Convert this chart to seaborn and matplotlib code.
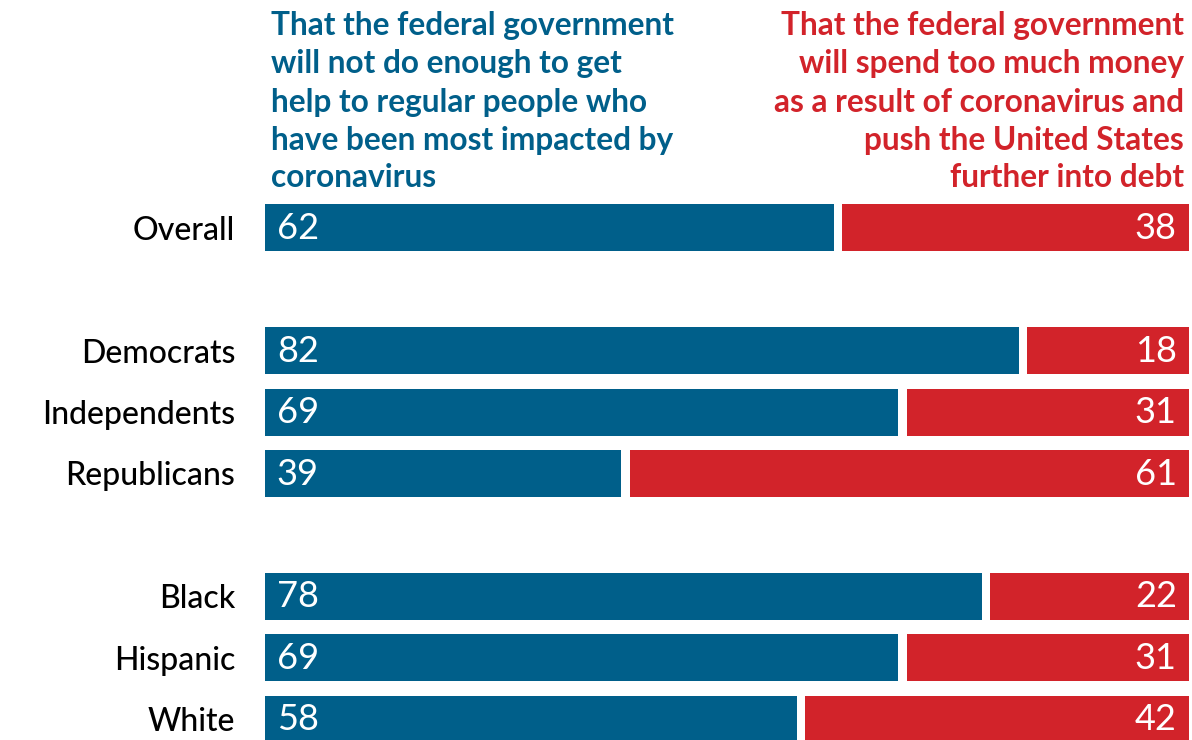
import matplotlib
matplotlib.use("Agg")
import pandas as pd
import seaborn as sns
from matplotlib import pyplot as plt


groups = ["Overall", "Democrats", "Independents", "Republicans", "Black", "Hispanic", "White"]
not_enough = [62, 82, 69, 39, 78, 69, 58]
too_much = [38, 18, 31, 61, 22, 31, 42]
row_pos = [0, 2, 3, 4, 6, 7, 8]

blue_header = ["That the federal government", "will not do enough to get",
               "help to regular people who", "have been most impacted by",
               "coronavirus"]
red_header = ["That the federal government", "will spend too much money",
              "as a result of coronavirus and", "push the United States",
              "further into debt"]

BLUE = "#005F8A"
RED = "#D2232A"
GAP = 0.46  # half of the white gap between the two parts, in percent units

sns.set_theme(style="white")
plt.rcParams["font.family"] = ["Lato", "DejaVu Sans"]

df = pd.DataFrame({"group": groups, "pos": row_pos,
                   "blue": not_enough, "red": too_much})
df["total"] = df["blue"] + df["red"]
df["blue_gap"] = df["blue"] + GAP
df["blue_end"] = df["blue"] - GAP

fig = plt.figure(figsize=(11.92, 7.40), dpi=100)
ax = fig.add_axes([265 / 1192, 0, 925 / 1192, 1])

bar_kw = dict(y="pos", orient="y", native_scale=True, width=0.765,
              saturation=1, linewidth=0, ax=ax)
sns.barplot(data=df, x="total", color=RED, **bar_kw)
sns.barplot(data=df, x="blue_gap", color="white", **bar_kw)
sns.barplot(data=df, x="blue_end", color=BLUE, **bar_kw)

ax.set_xlim(0, 100.08)
ax.set_ylim(8.342, -3.713)
ax.set_xticks([])
ax.set_yticks(row_pos)
ax.set_yticklabels(groups, fontsize=23, color="black", fontweight="medium")
ax.tick_params(axis="y", length=0, pad=21.5)
ax.set_xlabel("")
ax.set_ylabel("")
sns.despine(ax=ax, left=True, bottom=True)

# values inside the bars
for _, row in df.iterrows():
    ax.annotate(f"{row['blue']}", xy=(0, row["pos"]), xytext=(8.5, -0.5),
                textcoords="offset points", ha="left", va="center",
                color="white", fontsize=26)
    ax.annotate(f"{row['red']}", xy=(row["total"], row["pos"]), xytext=(-9, -0.5),
                textcoords="offset points", ha="right", va="center",
                color="white", fontsize=26)

# column headers
baselines = [35, 73.3, 111.7, 150, 186.7]
for line, y in zip(blue_header, baselines):
    fig.text(271 / 1192, 1 - y / 740, line, ha="left", va="baseline",
             color=BLUE, fontsize=22.8, fontweight="bold")
for line, y in zip(red_header, baselines):
    fig.text(1184 / 1192, 1 - y / 740, line, ha="right", va="baseline",
             color=RED, fontsize=22.8, fontweight="bold")

fig.savefig("out.png", dpi=100)
plt.close(fig)
